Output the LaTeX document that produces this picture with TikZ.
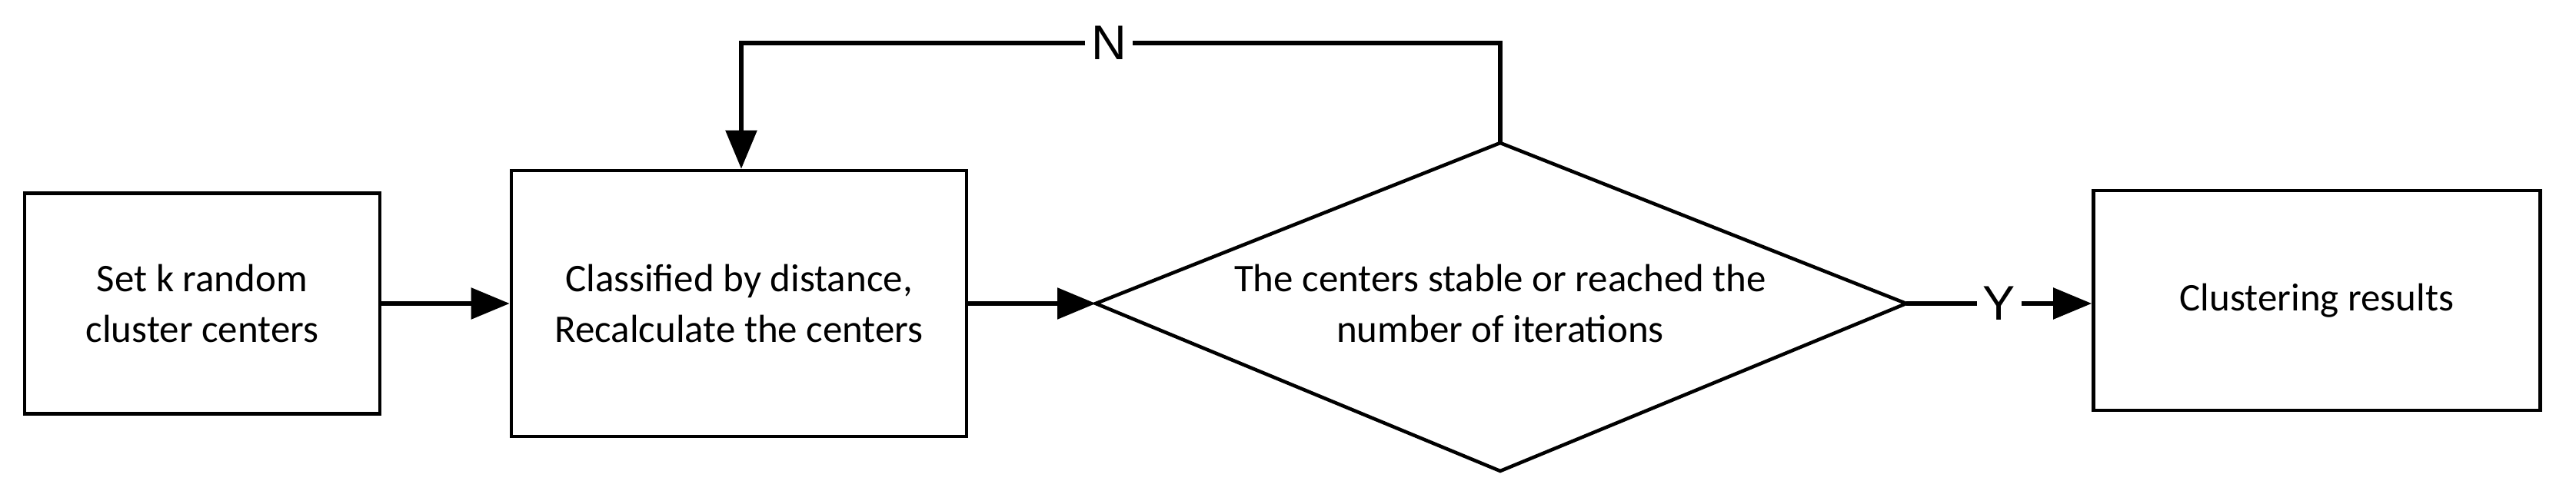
\documentclass[tikz,border=0pt]{standalone}
\usepackage{fontspec}
\setmainfont{Carlito}
\newfontfamily\lab{Liberation Sans}
\usetikzlibrary{arrows.meta}
\begin{document}
\begin{tikzpicture}[
  box/.style={draw,line width=1.3pt,align=center,inner sep=0pt,font=\fontsize{14.5}{19}\selectfont},
  conn/.style={line width=1.6pt,-{Triangle[length=0.5cm,width=0.4cm]}},
  ln/.style={line width=1.6pt}]
\useasboundingbox (0,0) rectangle (33.5,-6.39);
\node[box,minimum width=4.62cm,minimum height=2.87cm] (b1) at (2.63,-3.95) {Set k random\\cluster centers};
\node[box,minimum width=5.92cm,minimum height=3.46cm] (b2) at (9.61,-3.95) {Classified by distance,\\Recalculate the centers};
\node[box,minimum width=5.81cm,minimum height=2.86cm] (b3) at (30.13,-3.91) {Clustering results};
\coordinate (dl) at (14.25,-3.95);
\coordinate (dr) at (24.79,-3.95);
\coordinate (dt) at (19.51,-1.86);
\coordinate (db) at (19.51,-6.13);
\draw[line width=1.3pt] (dl)--(dt)--(dr)--(db)--cycle;
\node[align=center,font=\fontsize{14.5}{19}\selectfont] (dtext) at (19.51,-3.95) {The centers stable or reached the\\number of iterations};
\draw[conn] (b1.east |- 0,-3.95) -- (b2.west |- 0,-3.95);
\draw[conn] (b2.east |- 0,-3.95) -- (dl);
\coordinate (t1) at (19.51,-0.56);
\coordinate (t2) at (9.64,-0.56);
\node[fill=white,inner sep=2pt,font=\lab\fontsize{18}{20}\selectfont] (N) at (14.42,-0.56) {N};
\draw[ln] (dt)--(t1)--(N.east);
\draw[conn] (N.west)--(t2)--(b2.north -| t2);
\node[inner sep=2pt,font=\lab\fontsize{18}{20}\selectfont] (Y) at (26.0,-3.95) {Y};
\draw[ln] (dr)--(Y.west);
\draw[conn] (Y.east)--(b3.west |- 0,-3.95);
\end{tikzpicture}
\end{document}
